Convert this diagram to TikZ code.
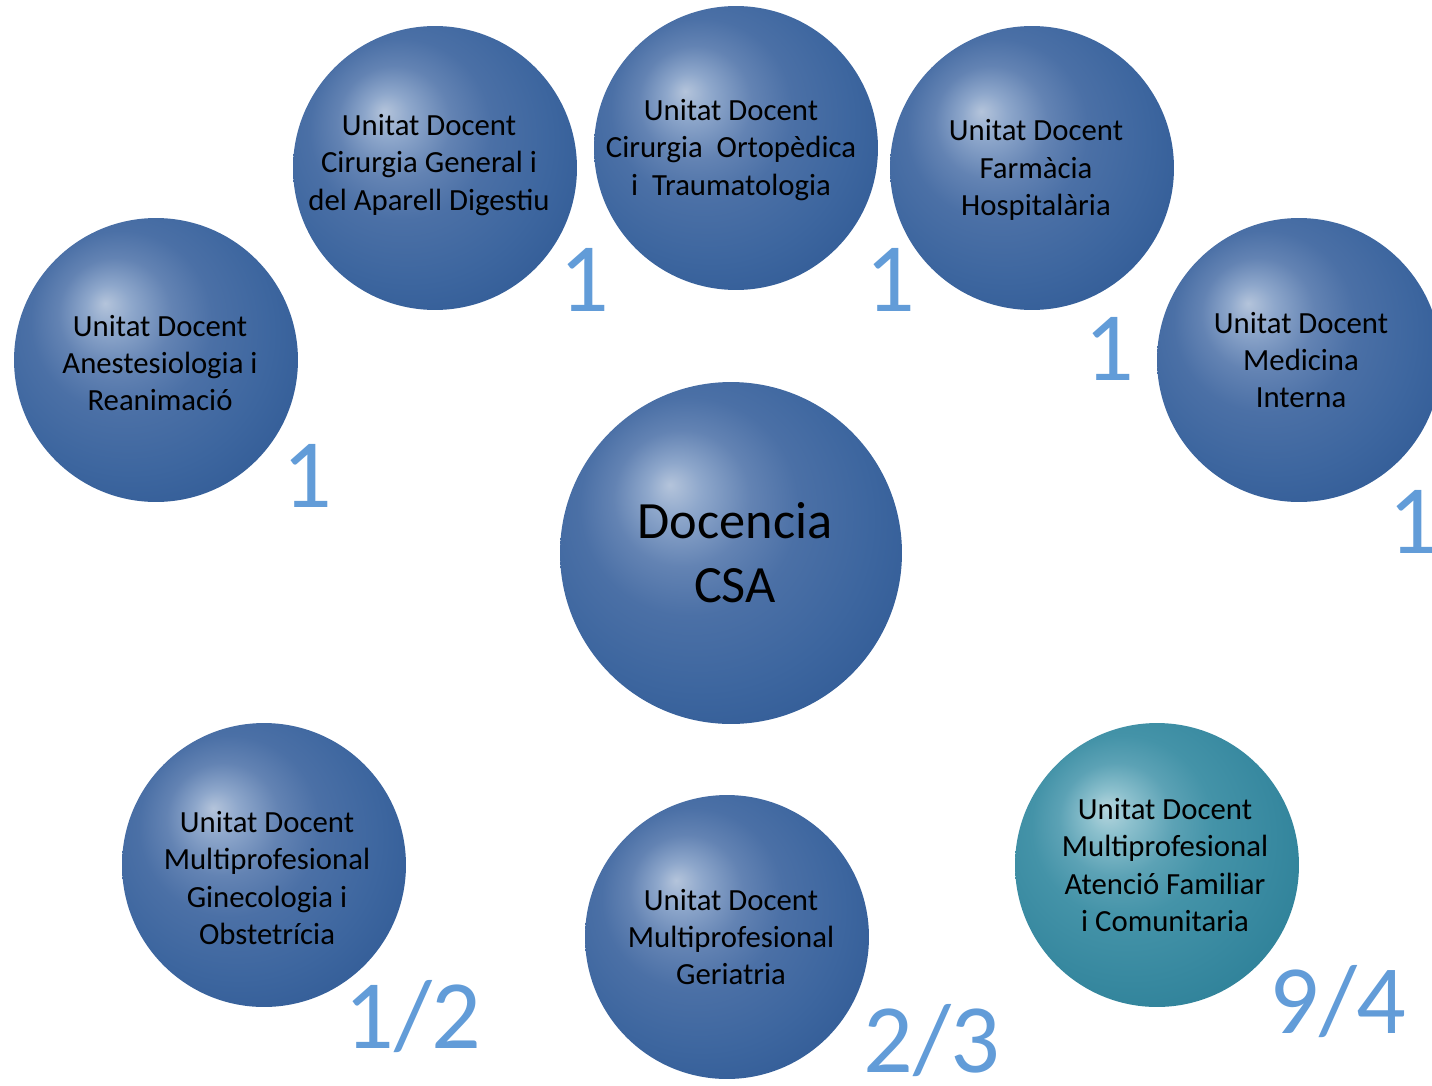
\documentclass[tikz,border=0pt]{standalone}
\usepackage{fontspec}
\setmainfont{Carlito}
\usepackage{tikz}
\usetikzlibrary{calc}

\definecolor{hlblue}{RGB}{180,196,219}
\definecolor{blueA}{RGB}{142,167,203}
\definecolor{blueB}{RGB}{99,131,179}
\definecolor{blueC}{RGB}{75,112,166}
\definecolor{blueD}{RGB}{61,102,159}
\definecolor{blueE}{RGB}{46,88,147}
\definecolor{blueF}{RGB}{36,75,135}
\definecolor{hlteal}{RGB}{182,214,222}
\definecolor{tealA}{RGB}{140,192,205}
\definecolor{tealB}{RGB}{92,162,181}
\definecolor{tealC}{RGB}{68,147,168}
\definecolor{tealD}{RGB}{56,137,160}
\definecolor{tealE}{RGB}{42,125,149}
\definecolor{tealF}{RGB}{33,114,138}
\definecolor{numblue}{RGB}{98,156,216}

\pgfdeclareradialshading{bluesphere}{\pgfpoint{-9bp}{10bp}}{%
  color(0bp)=(hlblue); color(4bp)=(blueA); color(10bp)=(blueB);
  color(16bp)=(blueC); color(25bp)=(blueD); color(36bp)=(blueE);
  color(50bp)=(blueF)}
\pgfdeclareradialshading{tealsphere}{\pgfpoint{-9bp}{10bp}}{%
  color(0bp)=(hlteal); color(4bp)=(tealA); color(10bp)=(tealB);
  color(16bp)=(tealC); color(25bp)=(tealD); color(36bp)=(tealE);
  color(50bp)=(tealF)}

\begin{document}
\begin{tikzpicture}[x=0.02cm, y=-0.02cm,
    unit/.style={circle, minimum size=5.68cm, inner sep=0pt, shading=bluesphere},
    unittext/.style={align=center, inner sep=0pt, font=\fontsize{17.5pt}{21.3pt}\selectfont},
    count/.style={anchor=base, inner sep=0pt, text=numblue,
      font=\fontsize{55.8pt}{60pt}\selectfont}]
    \useasboundingbox (0,0) rectangle (1432,1085);

    % centre
    \node[unit, minimum size=6.84cm] (csa) at (731,553) {};
    \node[unittext, font=\fontsize{29.8pt}{36.4pt}\selectfont] (csa-t) at ($(csa)+(4,0)$) {Docencia\\CSA};

    % upper ring
    \node[unit] (anest) at (156,360) {};
    \node[unittext] (anest-t) at ($(anest)+(4,3)$) {Unitat Docent\\Anestesiologia i\\Reanimació};
    \node[unit] (cirgen) at (435,168) {};
    \node[unittext] (cirgen-t) at ($(cirgen)+(-6,-3)$) {Unitat Docent\\Cirurgia General i\\del Aparell Digestiu};
    \node[unit] (orto) at (736,148) {};
    \node[unittext] (orto-t) at ($(orto)+(-5,2)$) {Unitat Docent\\Cirurgia\ \ Ortopèdica\\i\ \ Traumatologia};
    \node[unit] (farma) at (1032,168) {};
    \node[unittext] (farma-t) at ($(farma)+(4,2)$) {Unitat Docent\\Farmàcia\\Hospitalària};
    \node[unit] (medint) at (1299,360) {};
    \node[unittext] (medint-t) at ($(medint)+(2,0)$) {Unitat Docent\\Medicina\\Interna};

    % lower ring
    \node[unit] (gineco) at (264,865) {};
    \node[unittext] (gineco-t) at ($(gineco)+(3,13)$) {Unitat Docent\\Multiprofesional\\Ginecologia i\\Obstetrícia};
    \node[unit] (geria) at (727,937) {};
    \node[unittext] (geria-t) at ($(geria)+(4,0)$) {Unitat Docent\\Multiprofesional\\Geriatria};
    \node[unit, shading=tealsphere] (afic) at (1157,865) {};
    \node[unittext] (afic-t) at ($(afic)+(8,0)$) {Unitat Docent\\Multiprofesional\\Atenció Familiar\\i Comunitaria};

    % places
    \node[count] (nanest) at (307,507) {1};
    \node[count] (ncirgen) at (584,311) {1};
    \node[count] (norto) at (890,311) {1};
    \node[count] (nfarma) at (1109,380) {1};
    \node[count] (nmedint) at (1413,553) {1};
    \node[count] (ngineco) at (413,1048) {1/2};
    \node[count] (ngeria) at (932,1072) {2/3};
    \node[count] (nafic) at (1338,1033) {9/4};
\end{tikzpicture}
\end{document}
